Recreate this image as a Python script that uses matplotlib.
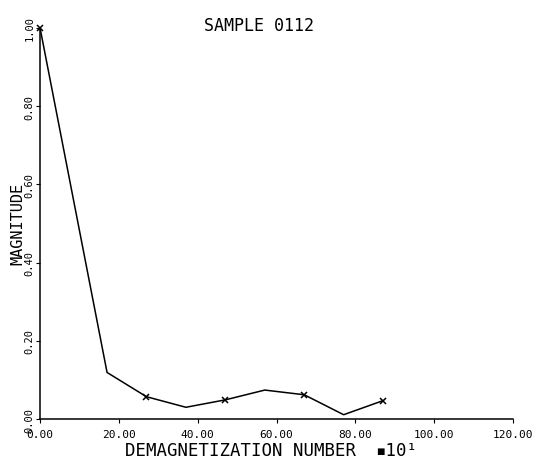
import matplotlib
matplotlib.use("Agg")
import matplotlib.pyplot as plt

# data
demag = [0, 17, 27, 37, 47, 57, 67, 77, 87]
magnitude = [1.00, 0.119, 0.057, 0.030, 0.049, 0.074, 0.062, 0.011, 0.047]
xticks = [0, 20, 40, 60, 80, 100, 120]
yticks = [0.0, 0.2, 0.4, 0.6, 0.8, 1.0]

mono = "DejaVu Sans Mono"

fig = plt.figure(figsize=(5.56, 4.64), dpi=100)
ax = fig.add_axes([0.072, 0.0948, 0.851, 0.843])

ax.plot(demag, magnitude, color="black", linewidth=1.1, clip_on=False)
# crosses on every other point
ax.plot(demag[::2], magnitude[::2], linestyle="none", marker="x",
        color="black", markersize=5, markeredgewidth=1.1, clip_on=False)

ax.set_xlim(0, 120)
ax.set_ylim(0, 1.0)
ax.set_xticks(xticks)
ax.set_yticks(yticks)
ax.set_xticklabels(["%.2f" % v for v in xticks], fontfamily=mono, fontsize=8)
ax.set_yticklabels(["%.2f" % v for v in yticks], fontfamily=mono, fontsize=7.5,
                   rotation=90, va="center")
ax.tick_params(direction="out", length=3, width=0.8)
ax.tick_params(axis="x", pad=4)
ax.tick_params(axis="y", pad=1)

for s in ["top", "right"]:
    ax.spines[s].set_visible(False)
ax.spines["left"].set_linewidth(1.1)
ax.spines["bottom"].set_linewidth(1.1)

ax.set_xlabel("DEMAGNETIZATION NUMBER", fontfamily=mono, fontsize=12.5)
ax.xaxis.set_label_coords(0.423, -0.055)
ax.text(0.708, -0.055, "\u25aa10\u00b9", transform=ax.transAxes, ha="left",
        va="top", fontfamily=mono, fontsize=12.5)
ax.set_ylabel("MAGNITUDE", fontfamily=mono, fontsize=11)
ax.yaxis.set_label_coords(-0.03, 0.5)

ax.text(0.463, 1.008, "SAMPLE 0112", transform=ax.transAxes, ha="center",
        va="center", fontfamily=mono, fontsize=12)

fig.savefig("out.png", dpi=100)
